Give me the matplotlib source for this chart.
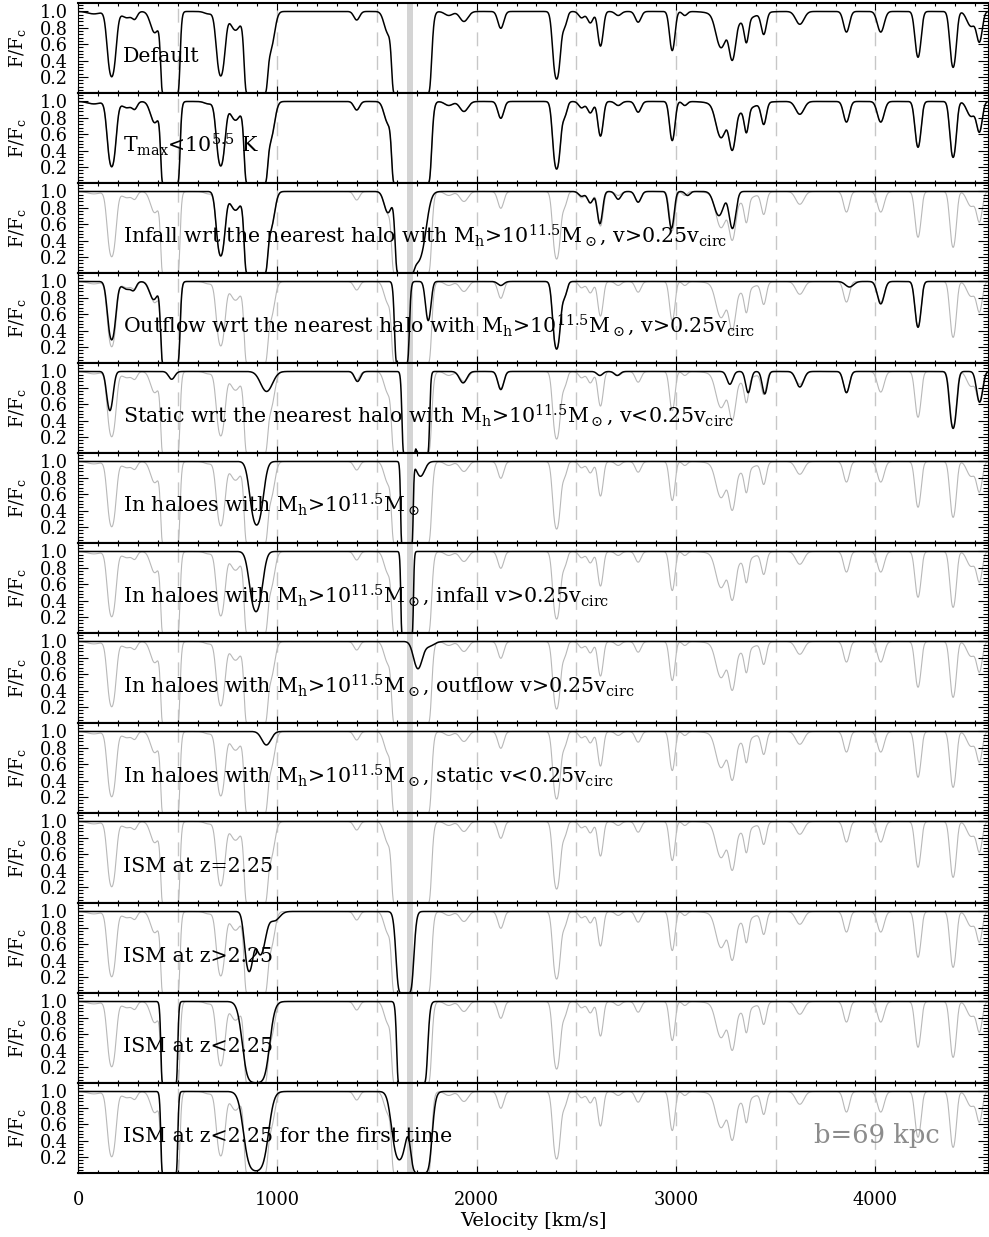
import numpy as np
import matplotlib
matplotlib.use("Agg")
import matplotlib.pyplot as plt
from matplotlib.ticker import MultipleLocator, FixedLocator

plt.rcParams["font.family"] = ["DejaVu Serif"]
plt.rcParams["mathtext.fontset"] = "dejavuserif"

# Absorption components of each spectrum: (centre [km/s], central optical depth, sigma [km/s])
default_lines = [
    (80, 0.03, 30), (169, 1.6, 16), (245, 0.08, 25), (285, 0.08, 12), (385, 0.3, 20),
    (463, 80, 16.3), (655, 0.03, 20), (716, 1.55, 16), (790, 0.26, 25), (893, 80, 20),
    (965, 0.6, 18), (1398, 0.11, 14), (1555, 0.3, 18), (1625, 60, 18), (1673, 60, 20),
    (1710, 60, 22), (1860, 0.05, 20), (1936, 0.13, 20), (2121, 0.23, 14), (2401, 1.75, 14),
    (2440, 0.2, 12), (2526, 0.08, 14), (2570, 0.15, 14), (2621, 0.55, 12), (2710, 0.05, 15),
    (2810, 0.14, 14), (2981, 0.65, 12), (3044, 0.05, 12), (3225, 0.5, 22), (3282, 0.75, 14),
    (3300, 0.15, 70), (3353, 0.37, 10), (3440, 0.31, 12), (3621, 0.17, 20), (3855, 0.29, 14),
    (4027, 0.29, 16), (4214, 0.82, 13), (4390, 1.15, 13), (4480, 0.2, 20), (4522, 0.45, 13),
]
tmax_lines = list(default_lines)
infall_lines = [
    (716, 1.55, 16), (790, 0.26, 25), (893, 80, 20), (965, 0.6, 18),
    (1555, 0.3, 18), (1640, 40, 18), (1700, 2.0, 30),
    (2526, 0.06, 14), (2570, 0.15, 14), (2618, 0.5, 12), (2710, 0.1, 14), (2810, 0.14, 14),
    (2977, 0.6, 12), (3058, 0.05, 12), (3215, 0.35, 22), (3283, 0.6, 15),
]
outflow_lines = [
    (169, 1.25, 16), (245, 0.1, 25), (280, 0.08, 12), (380, 0.25, 20), (463, 80, 16.3),
    (1625, 30, 14), (1757, 0.65, 12), (2121, 0.05, 15), (2401, 1.75, 14), (2440, 0.2, 12),
    (3870, 0.07, 20), (4027, 0.32, 16), (4214, 0.82, 13),
]
static_lines = [
    (160, 0.65, 14), (470, 0.1, 15), (946, 0.28, 28), (1402, 0.13, 14),
    (1661, 60, 12.3), (1728, 60, 12.3), (1932, 0.15, 18), (2121, 0.25, 14),
    (2618, 0.05, 14), (2705, 0.05, 14), (3270, 0.17, 14), (3362, 0.3, 12), (3445, 0.32, 12),
    (3621, 0.21, 18), (3855, 0.3, 14), (4390, 1.19, 14), (4523, 0.47, 14),
]
halo_lines = [(896, 1.5, 24), (1650, 200, 9.6), (1718, 0.2, 20)]
halo_infall_lines = [(893, 1.33, 24), (1651, 200, 9.6)]
halo_outflow_lines = [(1705, 0.4, 20), (1760, 0.06, 25)]
halo_static_lines = [(945, 0.18, 22)]
ism_now_lines = []
ism_early_lines = [(858, 1.3, 17), (915, 0.75, 22), (985, 0.12, 25), (1640, 10, 20)]
ism_late_lines = [(458, 200, 12.8), (893, 5, 35), (1645, 100, 15), (1701, 30, 20)]
ism_first_lines = [(458, 200, 12.8), (893, 3.5, 35), (1612, 1.8, 26), (1720, 8, 26)]

panel_lines = [
    default_lines, tmax_lines, infall_lines, outflow_lines, static_lines,
    halo_lines, halo_infall_lines, halo_outflow_lines, halo_static_lines,
    ism_now_lines, ism_early_lines, ism_late_lines, ism_first_lines,
]
MSUN = r"M$_\odot$"
MH = r"M$_{\rm h}$>10$^{11.5}$" + MSUN
panel_labels = [
    "Default",
    r"T$_{\rm max}$<10$^{5.5}$ K",
    "Infall wrt the nearest halo with " + MH + r", v>0.25v$_{\rm circ}$",
    "Outflow wrt the nearest halo with " + MH + r", v>0.25v$_{\rm circ}$",
    "Static wrt the nearest halo with " + MH + r", v<0.25v$_{\rm circ}$",
    "In haloes with " + MH,
    "In haloes with " + MH + r", infall v>0.25v$_{\rm circ}$",
    "In haloes with " + MH + r", outflow v>0.25v$_{\rm circ}$",
    "In haloes with " + MH + r", static v<0.25v$_{\rm circ}$",
    "ISM at z=2.25",
    "ISM at z>2.25",
    "ISM at z<2.25",
    "ISM at z<2.25 for the first time",
]
impact_label = "b=69 kpc"
xtick_values = [0, 1000, 2000, 3000, 4000]
ytick_values = [0.2, 0.4, 0.6, 0.8, 1.0]
guide_velocities = [500, 1000, 1500, 2000, 2500, 3000, 3500, 4000]
galaxy_band = (1648, 1681)

V_MAX = 4565
velocity = np.arange(0.0, V_MAX + 1.0, 1.0)


def flux(lines):
    tau = np.zeros_like(velocity)
    for v0, t0, sig in lines:
        tau += t0 * np.exp(-0.5 * ((velocity - v0) / sig) ** 2)
    return np.exp(-tau)


W, H = 989, 1237
fig = plt.figure(figsize=(W / 100, H / 100), dpi=100)
left, width = 78 / W, 910 / W
top_px, ph = 3.3, 90.0
base = flux(default_lines)
n = len(panel_lines)

for i, (lines, label) in enumerate(zip(panel_lines, panel_labels)):
    y0 = 1 - (top_px + ph * (i + 1)) / H
    ax = fig.add_axes([left, y0, width, ph / H])
    ax.set_xlim(0, V_MAX)
    ax.set_ylim(0, 1.1)
    ax.axvspan(*galaxy_band, color="0.83", lw=0, zorder=0.5)
    for gv in guide_velocities:
        ax.axvline(gv, color="0.78", lw=1.0, dashes=(10, 7), zorder=0.8)
    if i > 0:
        ax.plot(velocity, base, color="0.72", lw=0.8, zorder=1)
    ax.plot(velocity, flux(lines), color="black", lw=1.1, zorder=2)
    ax.text(225, 0.385, label, fontsize=14.8, ha="left", va="baseline", zorder=3)

    ax.xaxis.set_major_locator(FixedLocator(xtick_values))
    ax.xaxis.set_minor_locator(MultipleLocator(100))
    ax.yaxis.set_major_locator(FixedLocator(ytick_values))
    ax.yaxis.set_minor_locator(MultipleLocator(0.04))
    ax.set_yticklabels([f"{t:.1f}" for t in ytick_values], fontsize=12.8)
    ax.tick_params(which="both", direction="in", top=True, right=True, width=0.8)
    ax.tick_params(axis="y", which="major", length=7, pad=7)
    ax.tick_params(axis="y", which="minor", length=3.6)
    ax.tick_params(axis="x", which="major", length=5, pad=13)
    ax.tick_params(axis="x", which="minor", length=2.5)
    if i < n - 1:
        ax.set_xticklabels([])
    else:
        ax.set_xticklabels([str(t) for t in xtick_values], fontsize=12.8)
    for side in ("top", "bottom"):
        ax.spines[side].set_linewidth(1.5)
    for side in ("left", "right"):
        ax.spines[side].set_linewidth(0.8)
    ax.set_ylabel(r"F/F$_{\rm c}$", fontsize=13)
    ax.yaxis.set_label_coords(-(78 - 28) / 910, 0.5)
    if i == n - 1:
        ax.text(3690, 0.367, impact_label, fontsize=18.5, color="0.55",
                ha="left", va="baseline", zorder=3)

fig.text(533 / W, 1 - 1221 / H, "Velocity [km/s]", ha="center", va="center", fontsize=14)
fig.savefig("out.png", dpi=100)
